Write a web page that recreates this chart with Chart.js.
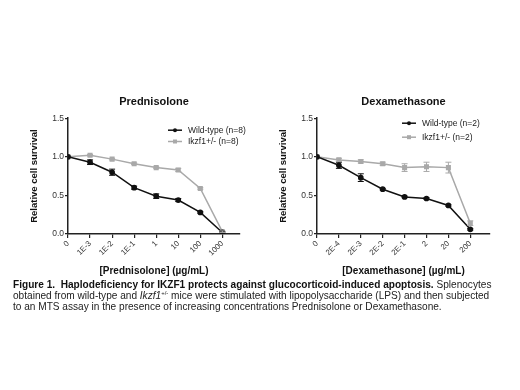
<!DOCTYPE html>
<html>
<head>
<meta charset="utf-8">
<script src="https://cdn.jsdelivr.net/npm/chart.js@4"></script>
<style>
  body { margin: 0; background: #fff; width: 520px; height: 390px; position: relative; overflow: hidden; }
  .box { position: absolute; top: 0; width: 260px; height: 287px; }
  #left { left: 0; }
  #right { left: 260px; }
  #caption {
    position: absolute; left: 13px; top: 280px; width: 505px;
    font-family: "Liberation Sans", Arial, sans-serif; font-size: 10.1px; line-height: 10.8px;
    color: #222; white-space: nowrap;
  }
  #caption b { color: #111; }
  #caption sup { font-size: 6px; line-height: 0; vertical-align: baseline; position: relative; top: -4px; }
</style>
</head>
<body>
<div class="box" id="left"><canvas id="pred"></canvas></div>
<div class="box" id="right"><canvas id="dex"></canvas></div>
<div id="caption">
  <b>Figure 1.&nbsp; Haplodeficiency for IKZF1 protects against glucocorticoid-induced apoptosis.</b> Splenocytes<br>
  obtained from wild-type and <i>Ikzf1</i><sup>+/-</sup> mice were stimulated with lipopolysaccharide (LPS) and then subjected<br>
  to an MTS assay in the presence of increasing concentrations Prednisolone or Dexamethasone.
</div>
<script>
// Prednisolone panel
const predDoses = ["0", "1E-3", "1E-2", "1E-1", "1", "10", "100", "1000"];
const predWT = [1.00, 0.93, 0.80, 0.60, 0.49, 0.44, 0.28, 0.02];
const predWTErr = [0, 0.03, 0.04, 0.02, 0.03, 0.02, 0.01, 0.01];
const predKO = [1.00, 1.02, 0.97, 0.91, 0.86, 0.83, 0.59, 0.03];
const predKOErr = [0, 0.01, 0.01, 0.01, 0.01, 0.02, 0.01, 0.01];

// Dexamethasone panel
const dexDoses = ["0", "2E-4", "2E-3", "2E-2", "2E-1", "2", "20", "200"];
const dexWT = [1.00, 0.89, 0.73, 0.58, 0.48, 0.46, 0.37, 0.06];
const dexWTErr = [0, 0.04, 0.05, 0.01, 0.01, 0.01, 0.01, 0.01];
const dexKO = [1.00, 0.96, 0.94, 0.91, 0.86, 0.87, 0.86, 0.14];
const dexKOErr = [0, 0.02, 0.02, 0.02, 0.05, 0.06, 0.07, 0.03];

const yTicks = [0, 0.5, 1.0, 1.5];

const FONT = '"Liberation Sans", Arial, sans-serif';
const BLACK = "#111111";
const GREY = "#a9a9a9";

function points(values) {
    return values.map((v, i) => ({ x: i, y: v }));
}

// whiskers drawn through the chart's own scales
const errorBars = {
    id: "errorBars",
    afterDatasetsDraw(chart) {
        const ctx = chart.ctx;
        const xs = chart.scales.x, ys = chart.scales.y;
        chart.data.datasets.forEach(ds => {
            ctx.save();
            ctx.strokeStyle = ds.borderColor;
            ctx.lineWidth = 1;
            ds.data.forEach((p, i) => {
                const e = ds.errors[i];
                if (!e) return;
                const x = xs.getPixelForValue(p.x);
                const y1 = ys.getPixelForValue(p.y + e);
                const y2 = ys.getPixelForValue(p.y - e);
                ctx.beginPath();
                ctx.moveTo(x, y1); ctx.lineTo(x, y2);
                ctx.moveTo(x - 3, y1); ctx.lineTo(x + 3, y1);
                ctx.moveTo(x - 3, y2); ctx.lineTo(x + 3, y2);
                ctx.stroke();
            });
            ctx.restore();
        });
    }
};

// legend drawn inside the plot, line + marker + label
const innerLegend = {
    id: "innerLegend",
    afterDraw(chart, args, opts) {
        const ctx = chart.ctx;
        const area = chart.chartArea;
        ctx.save();
        ctx.font = "8.5px " + FONT;
        ctx.textBaseline = "middle";
        chart.data.datasets.forEach((ds, i) => {
            const x = area.left + opts.dx;
            const y = area.top + opts.dy + i * opts.gap;
            ctx.strokeStyle = ds.borderColor;
            ctx.lineWidth = 1.5;
            ctx.beginPath();
            ctx.moveTo(x, y); ctx.lineTo(x + 14, y);
            ctx.stroke();
            ctx.fillStyle = ds.borderColor;
            if (ds.pointStyle === "rect") {
                ctx.fillRect(x + 5, y - 2, 4, 4);
            } else {
                ctx.beginPath();
                ctx.arc(x + 7, y, 2, 0, Math.PI * 2);
                ctx.fill();
            }
            ctx.fillStyle = "#222";
            ctx.fillText(ds.label, x + 20, y);
        });
        ctx.restore();
    }
};

function makePanel(id, title, xTitle, doses, wt, wtErr, ko, koErr, nLabel, lay) {
    new Chart(document.getElementById(id), {
        type: "line",
        data: {
            datasets: [{
                label: "Wild-type " + nLabel,
                data: points(wt),
                errors: wtErr,
                borderColor: BLACK,
                backgroundColor: BLACK,
                borderWidth: 1.5,
                pointRadius: 2.1,
                pointStyle: "circle",
                tension: 0
            }, {
                label: "Ikzf1+/- " + nLabel,
                data: points(ko),
                errors: koErr,
                borderColor: GREY,
                backgroundColor: GREY,
                borderWidth: 1.5,
                pointRadius: 2.5,
                pointStyle: "rect",
                tension: 0
            }]
        },
        options: {
            responsive: true,
            maintainAspectRatio: false,
            animation: false,
            layout: { padding: { left: lay.padLeft, right: lay.padRight, top: 0, bottom: 10 } },
            plugins: {
                legend: { display: false },
                tooltip: { enabled: false },
                title: {
                    display: true,
                    text: title,
                    fullSize: false,
                    color: "#111",
                    font: { family: FONT, size: 11, weight: "bold" },
                    padding: { top: 95, bottom: 10 }
                },
                innerLegend: lay.legend
            },
            scales: {
                x: {
                    type: "linear",
                    min: 0,
                    max: lay.xMax,
                    afterFit(scale) { scale.height = 43; },
                    border: { display: true, color: "#222", width: 1.5 },
                    grid: { display: true, drawOnChartArea: false, drawTicks: true, tickLength: 4, color: "#222", lineWidth: 1.2 },
                    ticks: {
                        stepSize: 1,
                        includeBounds: false,
                        autoSkip: false,
                        minRotation: 45,
                        maxRotation: 45,
                        padding: 1,
                        color: "#333",
                        font: { family: FONT, size: 7.8 },
                        callback: v => doses[v] !== undefined ? doses[v] : ""
                    },
                    title: {
                        display: true,
                        text: xTitle,
                        color: "#111",
                        font: { family: FONT, size: 10, weight: "bold" },
                        padding: { top: 4, bottom: 0 }
                    }
                },
                y: {
                    min: 0,
                    max: 1.5,
                    afterFit(scale) { scale.width = 43; },
                    afterBuildTicks(scale) { scale.ticks = yTicks.map(v => ({ value: v })); },
                    border: { display: true, color: "#222", width: 1.5 },
                    grid: { display: true, drawOnChartArea: false, drawTicks: true, tickLength: 3, color: "#222", lineWidth: 1.2 },
                    ticks: {
                        padding: 1,
                        color: "#333",
                        font: { family: FONT, size: 8.5 },
                        callback: v => v.toFixed(1)
                    },
                    title: {
                        display: true,
                        text: "Relative cell survival",
                        color: "#111",
                        font: { family: FONT, size: 9.5, weight: "bold" },
                        padding: { top: 4, bottom: 0 }
                    }
                }
            }
        },
        plugins: [errorBars, innerLegend]
    });
}

makePanel("pred", "Prednisolone", "[Prednisolone] (\u00b5g/mL)", predDoses,
    predWT, predWTErr, predKO, predKOErr, "(n=8)",
    { padLeft: 25, padRight: 20, xMax: 7.8, legend: { dx: 100, dy: 12, gap: 11.3 } });

makePanel("dex", "Dexamethasone", "[Dexamethasone] (\u00b5g/mL)", dexDoses,
    dexWT, dexWTErr, dexKO, dexKOErr, "(n=2)",
    { padLeft: 14, padRight: 30, xMax: 7.9, legend: { dx: 85, dy: 5, gap: 14 } });
</script>
</body>
</html>
